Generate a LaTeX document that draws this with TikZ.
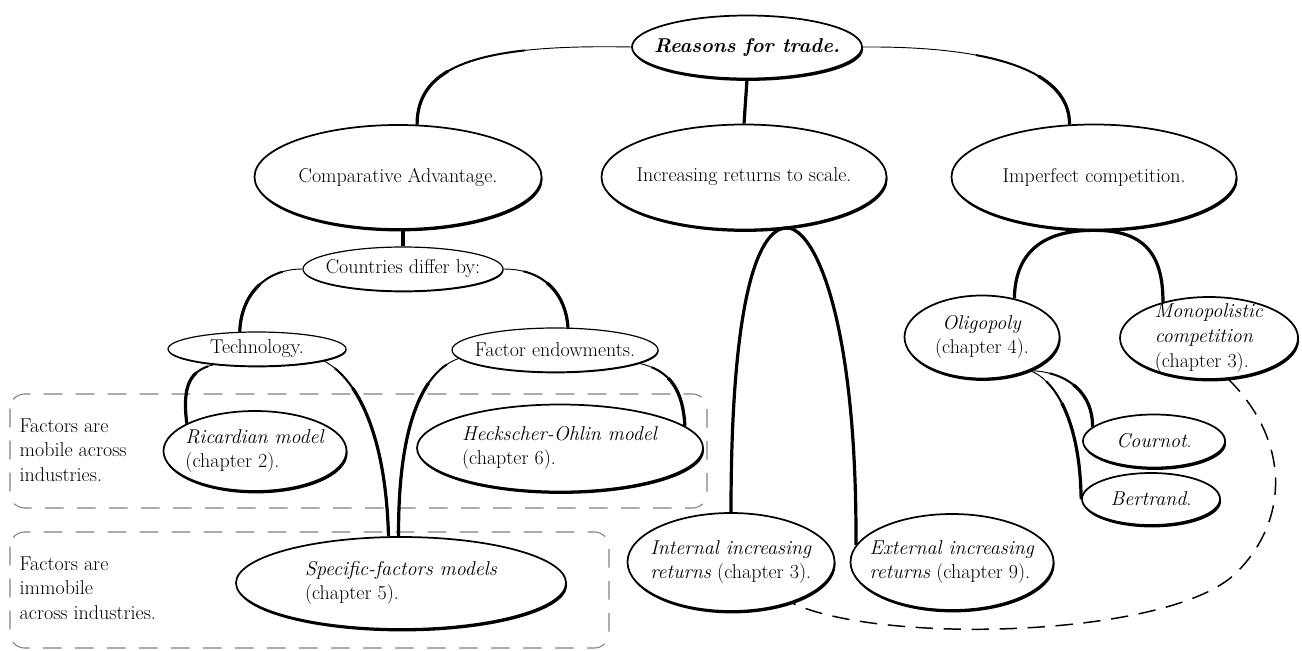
\documentclass[tikz,border=0pt]{standalone}
\usepackage{fontspec}
\usetikzlibrary{shapes.geometric,shadows}
\definecolor{boxgray}{gray}{0.5}

\tikzset{
  sz/.style 2 args={minimum width=#1*0.75pt, minimum height=#2*0.75pt},
  bubble/.style={ellipse, draw, fill=white, line width=1.3pt, inner sep=-60pt,
    drop shadow={shadow xshift=0.8pt, shadow yshift=-1.8pt, opacity=1, fill=black}},
  smallbubble/.style={ellipse, draw, fill=white, line width=0.9pt, inner sep=-60pt,
    drop shadow={shadow xshift=0.4pt, shadow yshift=-1pt, opacity=1, fill=black}},
  link/.style={line width=2.4pt},
  taper/.style 2 args={line width=0.7pt,
    postaction={draw, line width=1.5pt, dash pattern=on 0pt off #1 on 3000pt},
    postaction={draw, line width=2.4pt, dash pattern=on 0pt off #2 on 3000pt}},
  groupbox/.style={draw=boxgray, line width=0.8pt, dash pattern=on 14pt off 10pt, rounded corners=11pt},
  bigdash/.style={line width=1.1pt, dash pattern=on 13pt off 8pt},
}

\begin{document}
\begin{tikzpicture}[x=0.75pt, y=-0.75pt, font={\fontsize{15}{18.5}\selectfont}]
	\useasboundingbox (0,0) rectangle (1302,650);
	\draw[groupbox] (10,394) rectangle (707,508);
	\draw[groupbox] (10,532) rectangle (609,648);
	\node[align=left, anchor=west] (mob) at (15,450) {Factors are\\mobile across\\industries.};
	\node[align=left, anchor=west] (imm) at (15,588) {Factors are\\immobile\\across industries.};

	\node[bubble, sz={230}{63}] (top) at (747,47) {\textbf{\textit{Reasons for trade.}}};
	\node[bubble, sz={287}{104}] (ca) at (398,177) {Comparative Advantage.};
	\node[bubble, sz={285}{105}] (irs) at (744,177) {Increasing returns to scale.};
	\node[bubble, sz={285}{105}] (ic) at (1094,177) {Imperfect competition.};
	\node[smallbubble, sz={200}{44}] (cd) at (403,269) {Countries differ by:};
	\node[smallbubble, sz={178}{34}] (tech) at (257,349) {Technology.};
	\node[smallbubble, sz={206}{44}] (fe) at (555,350) {Factor endowments.};
	\node[bubble, sz={183}{80}, align=left] (ric) at (255,451) {\textit{Ricardian model}\\(chapter 2).};
	\node[bubble, sz={286}{87}, align=left] (ho) at (560,448) {\textit{Heckscher-Ohlin model}\\(chapter 6).};
	\node[bubble, sz={330}{92}, align=left] (sf) at (401,583) {\textit{Specific-factors models}\\(chapter 5).};
	\node[bubble, sz={207}{98}, align=left] (int) at (731,562) {\textit{Internal increasing}\\\textit{returns} (chapter 3).};
	\node[bubble, sz={203}{96}, align=left] (ext) at (952,562) {\textit{External increasing}\\\textit{returns} (chapter 9).};
	\node[bubble, sz={155}{83}, align=center] (olig) at (982,337) {\textit{Oligopoly}\\(chapter 4).};
	\node[bubble, sz={178}{82}, align=left] (mono) at (1209,338) {\textit{Monopolistic}\\\textit{competition}\\(chapter 3).};
	\node[bubble, sz={142}{53}] (cour) at (1154,441) {\textit{Cournot}.};
	\node[bubble, sz={138}{52}] (bert) at (1151,499) {\textit{Bertrand}.};

	\draw[taper={80pt}{140pt}] (top.west) .. controls (480,44) and (417,65) .. (ca.70);
	\draw[taper={85pt}{135pt}] (top.east) .. controls (990,46) and (1070,70) .. (ic.115);
	\draw[link] (top.south) -- (irs.north);
	\draw[link] (ca.south -| cd.north) -- (cd.north);
	\draw[taper={15pt}{35pt}] (cd.west) .. controls (265,269) and (241,295) .. (tech.135);
	\draw[taper={15pt}{35pt}] (cd.east) .. controls (545,269) and (566,295) .. (fe.60);
	\draw[taper={5pt}{15pt}] (tech.-160) .. controls (190,370) and (182,385) .. (ric.158);
	\draw[taper={10pt}{30pt}] (tech.-10) .. controls (360,380) and (386,440) .. (sf.105);
	\draw[taper={10pt}{30pt}] (fe.-175) .. controls (425,370) and (398,420) .. (sf.93);
	\draw[taper={10pt}{25pt}] (fe.-9) .. controls (670,370) and (683,390) .. (ho.10);
	\draw[link] (irs.-50) .. controls (760,228) and (731,290) .. (int.north);
	\draw[link] (irs.-50) .. controls (815,228) and (857,320) .. (ext.170);
	\draw[link] (ic.south) .. controls (1040,230) and (1015,255) .. (olig.50);
	\draw[link] (ic.south) .. controls (1145,230) and (1163,255) .. (mono.142);
	\draw[taper={15pt}{35pt}] (olig.-35) .. controls (1070,372) and (1093,395) .. (cour.167);
	\draw[taper={15pt}{35pt}] (olig.-35) .. controls (1055,380) and (1080,420) .. (bert.west);
	\coordinate (dturn) at (1236,573);
	\draw[bigdash] (mono.-65) .. controls (1290,440) and (1290,520) .. (dturn) .. controls (1170,638) and (880,645) .. (int.-34);
\end{tikzpicture}
\end{document}
